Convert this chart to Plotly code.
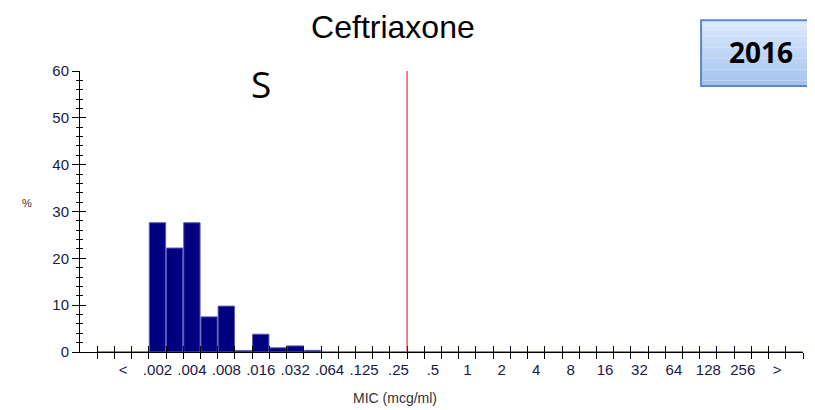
import plotly.graph_objs as go

# MIC bins (half-dilution steps), only every other bin carries a label
bin_labels = [
    "", "<", "", ".002", "", ".004", "", ".008", "", ".016", "",
    ".032", "", ".064", "", ".125", "", ".25", "", ".5", "",
    "1", "", "2", "", "4", "", "8", "", "16", "", "32", "",
    "64", "", "128", "", "256", "", ">", "",
]
# percent of isolates per bin
pct = [
    0, 0, 0, 27.6, 22.2, 27.6, 7.5, 9.8, 0.3, 3.8, 0.9,
    1.3, 0.35, 0, 0, 0, 0, 0, 0, 0, 0,
    0, 0, 0, 0, 0, 0, 0, 0, 0, 0, 0, 0,
    0, 0, 0, 0, 0, 0, 0, 0,
]
breakpoint_bin = 17  # ".25" -> susceptible breakpoint drawn after this bin
drug = "Ceftriaxone"
year = "2016"

n_bins = len(bin_labels)
bin_idx = list(range(n_bins))
label_pos = [i for i, t in enumerate(bin_labels) if t]
label_txt = [bin_labels[i] for i in label_pos]
edges = [i - 0.5 for i in range(n_bins + 1)]
y_major = list(range(0, 61, 10))

text_col = "#1a1a4a"
x_range = [-1.5, n_bins - 0.5]

fig = go.Figure()
fig.add_trace(
    go.Bar(
        x=bin_idx,
        y=pct,
        marker=dict(color="#000080", line=dict(color="#5a5ab4", width=1)),
        showlegend=False,
    )
)
# dummy traces so the overlay tick axes get drawn
fig.add_trace(go.Scatter(x=[None], y=[None], xaxis="x2", yaxis="y2", showlegend=False))
fig.add_trace(go.Scatter(x=[None], y=[None], xaxis="x3", yaxis="y2", showlegend=False))

fig.add_shape(
    type="line", x0=breakpoint_bin + 0.5, x1=breakpoint_bin + 0.5,
    y0=0, y1=1, xref="x", yref="paper", line=dict(color="red", width=1),
)

# year badge, light blue gradient faked with thin bands
bx0, bx1, by0, by1 = 0.859, 1.0145, 0.9466, 1.181
top_rgb, bot_rgb = (220, 232, 251), (166, 195, 240)
n_band = 12
for b in range(n_band):
    f = b / (n_band - 1)
    c = tuple(round(top_rgb[i] + (bot_rgb[i] - top_rgb[i]) * f) for i in range(3))
    fig.add_shape(
        type="rect", xref="paper", yref="paper", layer="above",
        x0=bx0, x1=bx1,
        y0=by1 - (by1 - by0) * (b + 1) / n_band, y1=by1 - (by1 - by0) * b / n_band,
        fillcolor="rgb(%d,%d,%d)" % c, line=dict(width=0),
    )
fig.add_shape(
    type="rect", xref="paper", yref="paper", layer="above",
    x0=bx0, x1=bx1, y0=by0, y1=by1,
    line=dict(color="#5a8ac6", width=2),
)
fig.add_annotation(
    text="<b>" + year + "</b>", x=(bx0 + bx1) / 2 + 0.005, y=1.066, xref="paper", yref="paper",
    xanchor="center", yanchor="middle",
    showarrow=False, font=dict(family="Open Sans", size=28, color="black"),
)
fig.add_annotation(
    text="S", x=0.2505, y=0.957, xref="paper", yref="paper",
    xanchor="center", yanchor="middle",
    showarrow=False, font=dict(family="Open Sans", size=37, color="black"),
)
fig.add_annotation(
    text="%", x=-0.073, y=0.53, xref="paper", yref="paper",
    xanchor="center", yanchor="middle",
    showarrow=False, font=dict(size=11, color="#333333"),
)
fig.add_annotation(
    text="MIC (mcg/ml)", x=0.436, y=-0.164, xref="paper", yref="paper",
    xanchor="center", yanchor="middle",
    showarrow=False, font=dict(size=14, color="#333333"),
)

# page body has an 8px margin, so the figure is 8px smaller than the window
fig.update_layout(
    width=807,
    height=402,
    margin=dict(l=72, r=12, t=63, b=58),
    paper_bgcolor="white",
    plot_bgcolor="white",
    font=dict(family="Liberation Sans", color=text_col),
    bargap=0.05,
    title=dict(
        text=drug, x=0.477, y=0.952, xanchor="center", yanchor="middle",
        font=dict(family="Liberation Sans", size=32, color="black"),
    ),
    xaxis=dict(
        range=x_range, tickmode="array", tickvals=label_pos, ticktext=label_txt,
        ticks="outside", ticklen=4, tickcolor="rgba(0,0,0,0)",
        tickfont=dict(size=15, color=text_col),
        showline=True, linecolor="black", linewidth=1,
        showgrid=False, zeroline=False, fixedrange=True,
    ),
    xaxis2=dict(
        overlaying="x", anchor="y2", range=x_range, tickmode="array", tickvals=edges,
        ticks="outside", ticklen=6, tickcolor="black", showticklabels=False,
        showline=False, showgrid=False, zeroline=False,
    ),
    xaxis3=dict(
        overlaying="x", anchor="y2", range=x_range, tickmode="array", tickvals=edges,
        ticks="inside", ticklen=6, tickcolor="black", showticklabels=False,
        showline=False, showgrid=False, zeroline=False,
    ),
    yaxis=dict(
        range=[0, 60], tickmode="array", tickvals=y_major,
        ticks="outside", ticklen=7, tickcolor="black",
        minor=dict(dtick=2, ticks="outside", ticklen=3, tickcolor="black"),
        tickfont=dict(size=15, color=text_col),
        showline=True, linecolor="black", linewidth=1,
        showgrid=False, zeroline=False,
    ),
    yaxis2=dict(
        overlaying="y", anchor="x", range=[0, 60], tickmode="array", tickvals=y_major,
        ticks="inside", ticklen=6, tickcolor="black", showticklabels=False,
        minor=dict(dtick=2, ticks="inside", ticklen=3, tickcolor="black"),
        showline=False, showgrid=False, zeroline=False,
    ),
)

fig.write_html("out.html")
